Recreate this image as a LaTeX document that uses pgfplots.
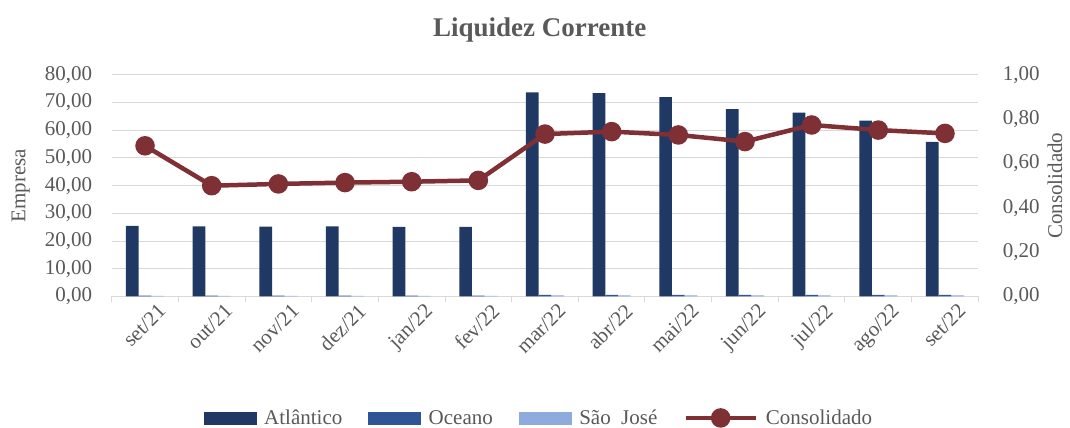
\documentclass[border=0pt]{standalone}
\usepackage{fontspec}
\setmainfont{Liberation Serif}
\usepackage{pgfplots}
\pgfplotsset{compat=1.18}
\definecolor{txt}{HTML}{595959}
\definecolor{atl}{HTML}{203864}
\definecolor{oce}{HTML}{2F5597}
\definecolor{sjo}{HTML}{8FAADC}
\definecolor{con}{HTML}{7F3035}
\definecolor{grd}{HTML}{D9D9D9}
\pgfplotsset{
  numfmt/.style={/pgf/number format/fixed, /pgf/number format/fixed zerofill, /pgf/number format/precision=2, /pgf/number format/use comma, /pgf/number format/1000 sep={}, /pgf/number format/assume math mode=true},
  common/.style={
    at={(111.7pt,131.5pt)}, anchor=south west,
    scale only axis, width=866.6pt, height=221.6pt,
    xmin=-0.5, xmax=12.5,
    font=\fontsize{21}{24}\selectfont,
    every tick label/.append style={text=txt},
    label style={text=txt},
  },
  conleg/.style={legend image code/.code={\draw[mark repeat=2, mark phase=2, ##1] plot coordinates {(0pt,0pt) (35pt,0pt) (70pt,0pt)};}},
  boxleg/.style={legend image code/.code={\fill[#1] (0pt,-6pt) rectangle (52pt,6pt);}},
}
\begin{document}
\begin{tikzpicture}[x=1pt,y=1pt]
\path[use as bounding box] (0,0) rectangle (1070,428);
\begin{axis}[common,
  ymin=0, ymax=80,
  ybar=0pt, bar width=12.7pt,
  axis x line*=bottom, axis y line*=left,
  x axis line style={draw=grd, line width=1pt},
  y axis line style={draw=none},
  ytick={0,10,...,80},
  yticklabel style={xshift=-16pt, numfmt},
  ytick style={draw=none},
  ymajorgrids, major grid style={draw=grd, line width=1pt},
  xtick={0,...,12},
  xticklabels={set/21,out/21,nov/21,dez/21,jan/22,fev/22,mar/22,abr/22,mai/22,jun/22,jul/22,ago/22,set/22},
  xticklabel style={xshift=12pt, yshift=-1pt, rotate=45, anchor=north east},
  tick align=outside,
  major tick length=0pt,
  xtick style={draw=grd, line width=1pt},
  extra x ticks={-0.5,0.5,...,12.5},
  extra x tick labels={},
  extra x tick style={major tick length=6pt, xmajorgrids=false},
  ylabel={Empresa},
  ylabel style={at={(axis description cs:-0.105,0.5)}, anchor=center},
  title={Liquidez Corrente},
  title style={at={(0.494,1.176)}, anchor=center, text=txt, font=\fontsize{27}{30}\selectfont\bfseries},
]
\addplot[fill=atl, draw=none] coordinates {(0,25.5) (1,25.3) (2,25.2) (3,25.3) (4,25.1) (5,25.1) (6,73.7) (7,73.4) (8,72.0) (9,67.6) (10,66.4) (11,63.5) (12,55.8)};
\addplot[fill=oce, draw=none] coordinates {(0,0.3) (1,0.3) (2,0.3) (3,0.3) (4,0.3) (5,0.3) (6,0.6) (7,0.6) (8,0.6) (9,0.6) (10,0.6) (11,0.6) (12,0.6)};
\addplot[fill=sjo, draw=none] coordinates {(0,0.2) (1,0.2) (2,0.2) (3,0.2) (4,0.2) (5,0.2) (6,0.4) (7,0.4) (8,0.4) (9,0.4) (10,0.4) (11,0.4) (12,0.4)};
\end{axis}
\begin{axis}[common,
  ymin=0, ymax=1,
  axis x line=none, axis y line*=right,
  y axis line style={draw=none},
  ytick={0,0.2,0.4,0.6,0.8,1},
  yticklabel style={xshift=21pt, numfmt},
  ytick style={draw=none},
  ylabel={Consolidado},
  ylabel style={at={(axis description cs:1.0885,0.5)}, anchor=center},
  legend columns=4,
  legend style={at={(0.493,-0.548)}, anchor=center, draw=none, fill=none, text=txt,
    font=\fontsize{21}{24}\selectfont,
    /tikz/every odd column/.append style={column sep=6pt},
    /tikz/every even column/.append style={column sep=24pt}},
]
\addlegendimage{boxleg=atl}
\addlegendentry{Atlântico}
\addlegendimage{boxleg=oce}
\addlegendentry{Oceano}
\addlegendimage{boxleg=sjo}
\addlegendentry{São\ \ José}
\addplot[con, line width=4.5pt, mark=*, mark size=7.5pt, conleg]
  coordinates {(0,0.680) (1,0.500) (2,0.508) (3,0.514) (4,0.518) (5,0.524) (6,0.733) (7,0.744) (8,0.729) (9,0.699) (10,0.774) (11,0.751) (12,0.736)};
\addlegendentry{Consolidado}
\end{axis}
\end{tikzpicture}
\end{document}
